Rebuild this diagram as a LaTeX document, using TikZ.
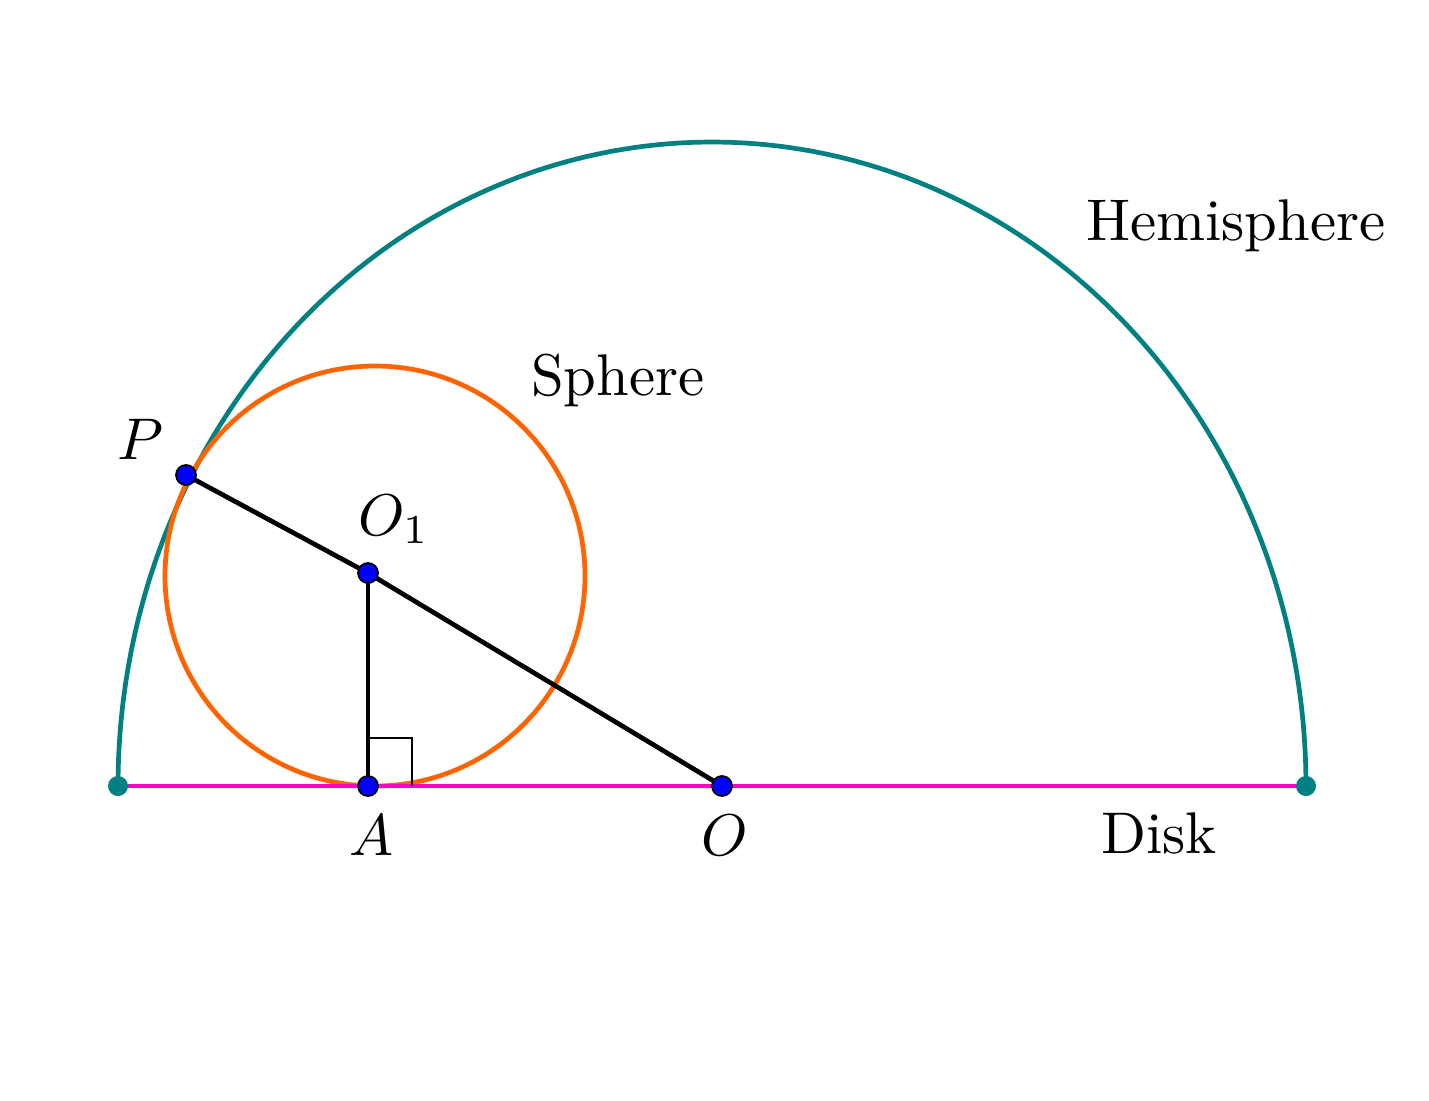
\documentclass[tikz,border=0pt]{standalone}
\definecolor{hemi}{RGB}{0,128,128}
\definecolor{sph}{RGB}{255,100,0}
\definecolor{diskc}{RGB}{255,0,200}
\begin{document}
\begin{tikzpicture}[x=0.17pt,y=-0.17pt,
  bdot/.style={circle,fill=blue,draw=black,line width=0.3pt,inner sep=0pt,minimum size=3.4pt},
  tdot/.style={circle,fill=hemi,inner sep=0pt,minimum size=3.4pt},
  lab/.style={anchor=base west,inner sep=0pt},
  thick line/.style={line width=0.8pt}]
\useasboundingbox (0,0) rectangle (1429,1100);
\coordinate (L) at (118,786);
\coordinate (R) at (1306,786);
\coordinate (P) at (186,475);
\coordinate (O1) at (368,573);
\coordinate (A) at (368,786);
\coordinate (O) at (722,786);
\coordinate (C) at (375,576);
% hemisphere
\draw[hemi,thick line] plot[domain=180:0,samples=120,smooth] ({712+594*cos(\x)},{786-644*sin(\x)});
% sphere
\draw[sph,thick line] (C) circle[radius=35.7pt];
% disk
\draw[diskc,thick line] (L) -- (R);
% segments
\draw[black,thick line] (P) -- (O1) -- (O);
\draw[black,thick line] (O1) -- (A);
\draw[black,line width=0.35pt] (A) +(0,-48) -- +(44,-48) -- +(44,0);
% dots
\node[tdot] (nL) at (L) {};
\node[tdot] (nR) at (R) {};
\node[bdot] (nP) at (P) {};
\node[bdot] (nO1) at (O1) {};
\node[bdot] (nA) at (A) {};
\node[bdot] (nO) at (O) {};
% labels
\node[lab] (tH) at (1085,240) {Hemisphere};
\node[lab] (tS) at (530,395) {Sphere};
\node[lab] (tD) at (1100,853) {Disk};
\node[lab] (tP) at (116,459) {$P$};
\node[lab] (tO1) at (357,535) {$O_1$};
\node[lab] (tA) at (348,855) {$A$};
\node[lab] (tO) at (700,855) {$O$};
\end{tikzpicture}
\end{document}
